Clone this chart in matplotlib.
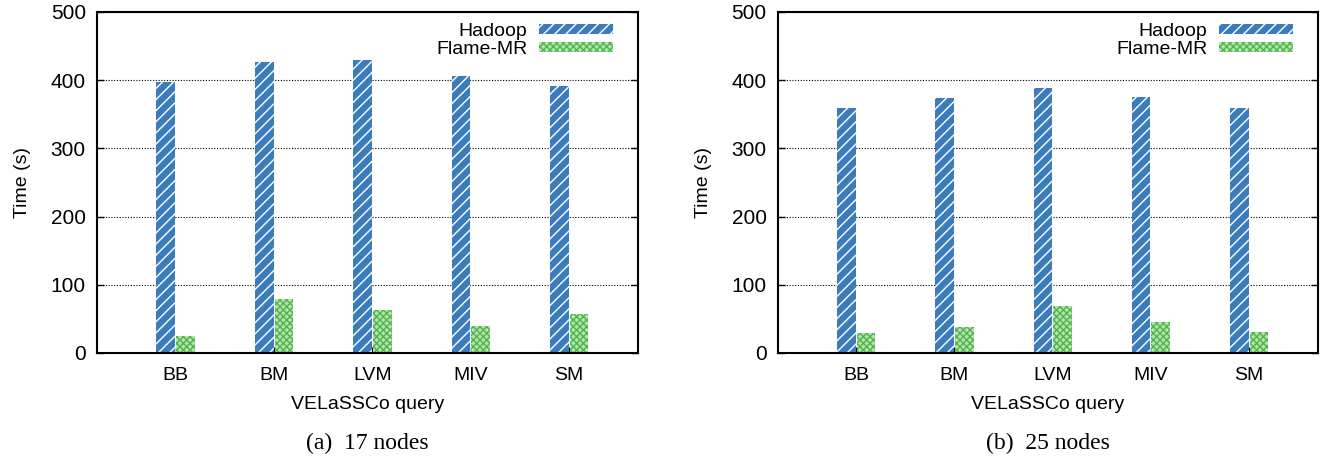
import numpy as np
import matplotlib
matplotlib.use("Agg")
import matplotlib.pyplot as plt

plt.rcParams["font.family"] = ["Liberation Sans", "DejaVu Sans"]
plt.rcParams["hatch.linewidth"] = 1.0

queries = ["BB", "BM", "LVM", "MIV", "SM"]
hadoop_17 = [398, 426, 429, 406, 391]
flame_17 = [25, 79, 63, 40, 57]
hadoop_25 = [359, 374, 389, 376, 359]
flame_25 = [30, 38, 69, 46, 31]

captions = ["(a)  17 nodes", "(b)  25 nodes"]

blue = "#3b7cbd"
green = "#4fb54a"


def draw_panel(ax, hadoop, flame, caption):
    x = np.arange(len(queries))
    w = 0.19
    ax.bar(x - 0.1, hadoop, w, color=blue, edgecolor="white", hatch="///",
           linewidth=0, label="Hadoop", zorder=2)
    ax.bar(x + 0.1, flame, w, color="#b5e3b0", edgecolor=green, hatch="xxxxx",
           linewidth=0, label="Flame-MR", zorder=2)
    ax.set_xlim(-0.8, 4.7)
    ax.set_ylim(0, 500)
    ax.set_yticks([0, 100, 200, 300, 400, 500])
    ax.set_xticks(x)
    ax.set_xticklabels(queries)
    ax.tick_params(axis="both", labelsize=15, direction="in", length=5, width=1)
    ax.tick_params(axis="y", right=True, pad=8)
    ax.tick_params(axis="x", length=4, labelsize=14, pad=10)
    ax.yaxis.grid(True, linestyle=(0, (1, 1.5)), color="black", linewidth=0.8)
    ax.set_axisbelow(True)
    for s in ax.spines.values():
        s.set_linewidth(1.5)
    ax.set_ylabel("Time (s)", fontsize=14, labelpad=14)
    ax.set_xlabel("VELaSSCo query", fontsize=14, labelpad=9)
    ax.legend(loc="upper right", frameon=False, markerfirst=False, fontsize=14,
              handlelength=3.8, handleheight=0.45, labelspacing=0.05,
              borderaxespad=0.2, borderpad=0.2, handletextpad=0.6,
              bbox_to_anchor=(0.968, 0.99))
    ax.text(0.5, -0.265, caption, transform=ax.transAxes, ha="center",
            va="center", fontsize=17, family="Liberation Serif")


fig = plt.figure(figsize=(13.23, 4.58), dpi=100)
ax1 = fig.add_axes([0.0733, 0.2293, 0.4089, 0.7445])
ax2 = fig.add_axes([0.5878, 0.2293, 0.4084, 0.7445])
draw_panel(ax1, hadoop_17, flame_17, captions[0])
draw_panel(ax2, hadoop_25, flame_25, captions[1])

fig.savefig("out.png", dpi=100)
